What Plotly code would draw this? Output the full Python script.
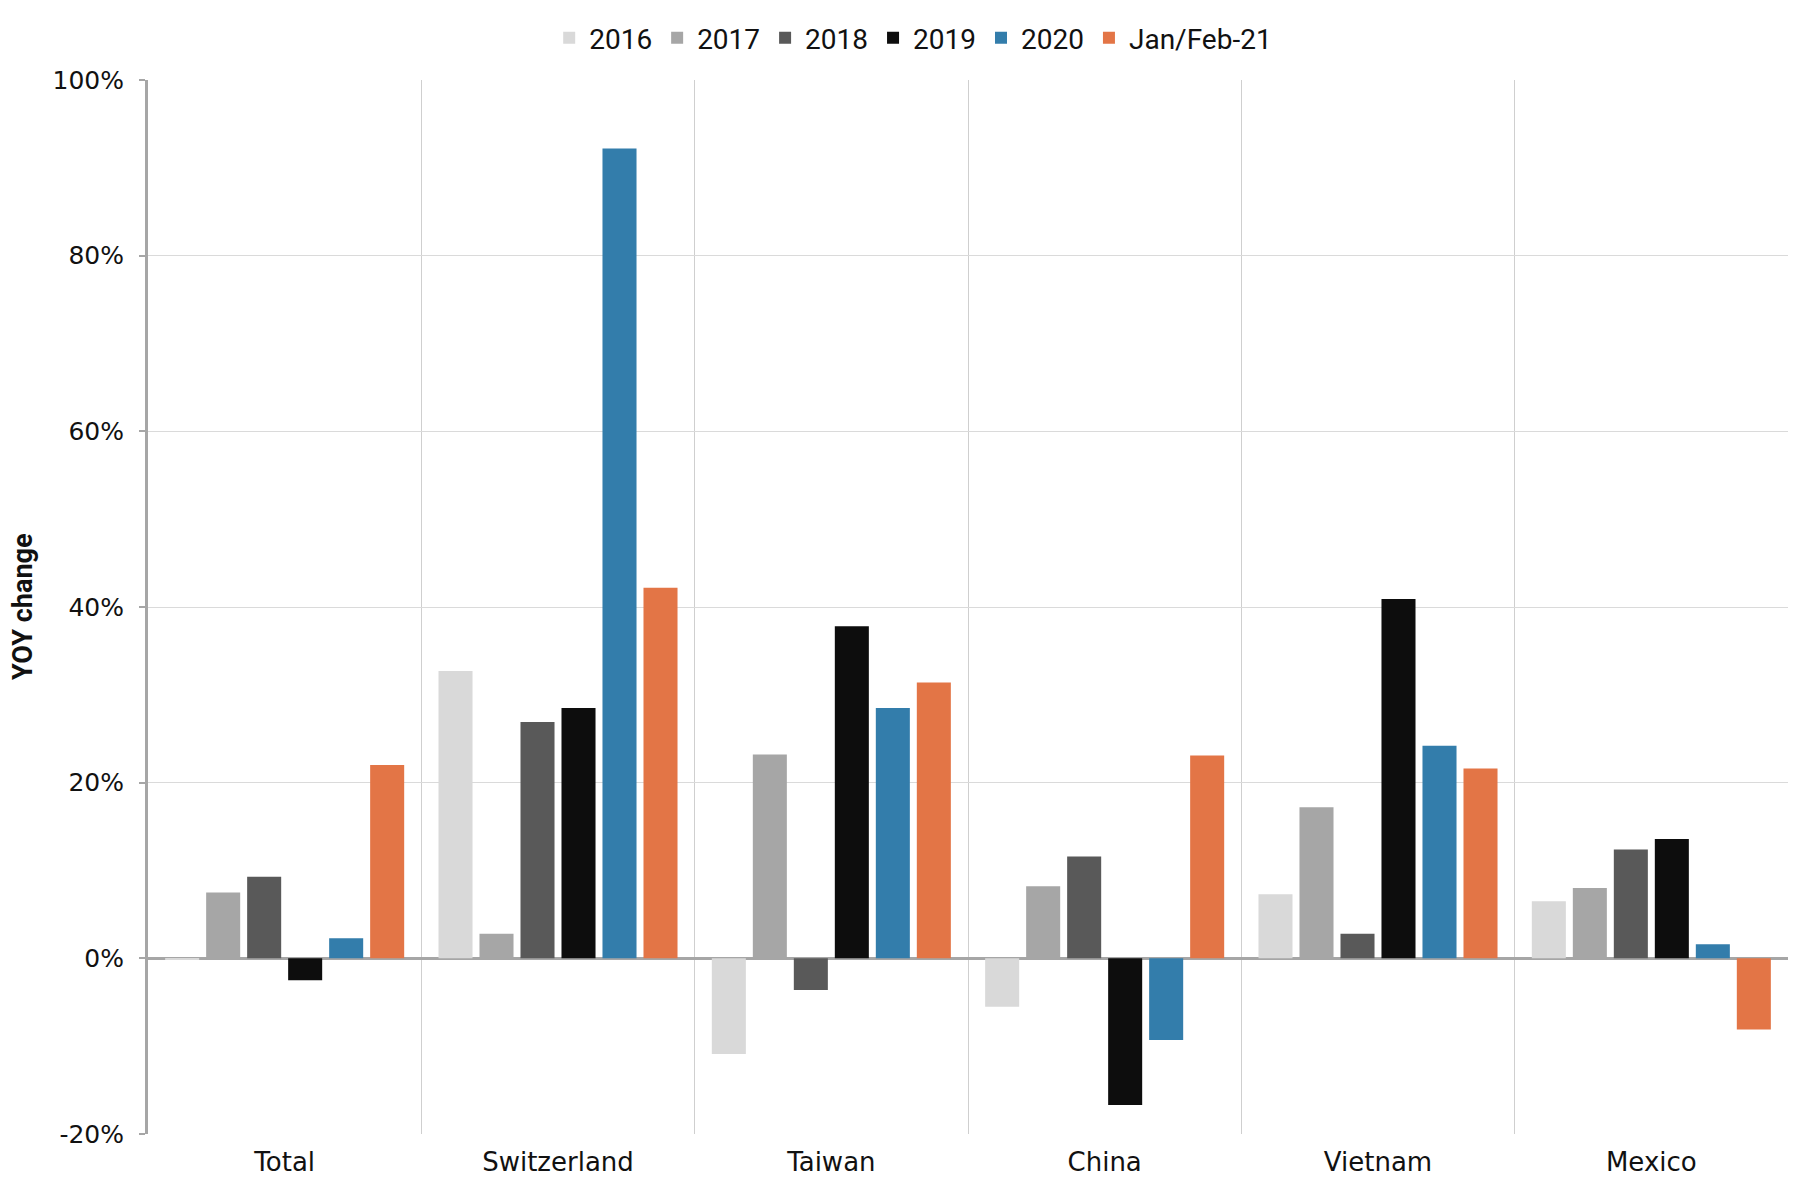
import plotly.graph_objects as go

categories = ["Total", "Switzerland", "Taiwan", "China", "Vietnam", "Mexico"]
series_names = ["2016", "2017", "2018", "2019", "2020", "Jan/Feb-21"]
v2016 = [-0.2, 32.7, -10.9, -5.5, 7.3, 6.5]
v2017 = [7.5, 2.8, 23.2, 8.2, 17.2, 8.0]
v2018 = [9.3, 26.9, -3.6, 11.6, 2.8, 12.4]
v2019 = [-2.5, 28.5, 37.8, -16.7, 40.9, 13.6]
v2020 = [2.3, 92.2, 28.5, -9.3, 24.2, 1.6]
vjf21 = [22.0, 42.2, 31.4, 23.1, 21.6, -8.1]
y_ticks = [-20, 0, 20, 40, 60, 80, 100]
y_tick_labels = ["-20%", "0%", "20%", "40%", "60%", "80%", "100%"]

values = [v2016, v2017, v2018, v2019, v2020, vjf21]
colors = ["#D9D9D9", "#A6A6A6", "#595959", "#0D0D0D", "#337DAB", "#E37546"]

fig = go.Figure()
for name, vals, col in zip(series_names, values, colors):
    fig.add_trace(go.Bar(name=name, x=categories, y=vals, marker_color=col,
                         marker_line_width=0))

W, H = 1796, 1182
font_main = "DejaVu Sans, sans-serif"
narrow = "Roboto, Liberation Sans, sans-serif"
fig.update_layout(
    width=W, height=H,
    paper_bgcolor="white", plot_bgcolor="white",
    margin=dict(l=140, r=16, t=72, b=56, autoexpand=False),
    barmode="group", bargap=0.1, bargroupgap=0.17,
    font=dict(family=font_main, size=22, color="#111111"),
    legend=dict(orientation="h", x=0.504, xanchor="center", xref="container",
                y=1 - 30 / H, yanchor="middle", yref="container",
                font=dict(family=narrow, size=28, color="#111111"),
                itemwidth=30, traceorder="normal"),
    showlegend=True,
)
fig.update_xaxes(
    showgrid=True, gridcolor="#CFCFCF", gridwidth=1, tickson="boundaries",
    ticks="", showline=False, tickfont=dict(family=font_main, size=26),
    ticklabelstandoff=10,
)
fig.update_yaxes(
    range=[-20, 100], tickvals=y_ticks, ticktext=y_tick_labels,
    showgrid=True, gridcolor="#DADADA", gridwidth=1.2,
    zeroline=True, zerolinecolor="#A6A6A6", zerolinewidth=3,
    showline=True, linecolor="#A6A6A6", linewidth=3,
    ticks="outside", ticklen=6, tickcolor="#A6A6A6", tickwidth=1.5,
    tickfont=dict(family=font_main, size=25), ticklabelstandoff=10,
)
fig.add_annotation(text="<b>YOY change</b>", xref="paper", yref="paper",
                   x=-0.0762, y=0.5, textangle=-90, showarrow=False,
                   xanchor="center", yanchor="middle",
                   font=dict(family=narrow, size=27, color="#111111"))

fig.write_html("out.html")
